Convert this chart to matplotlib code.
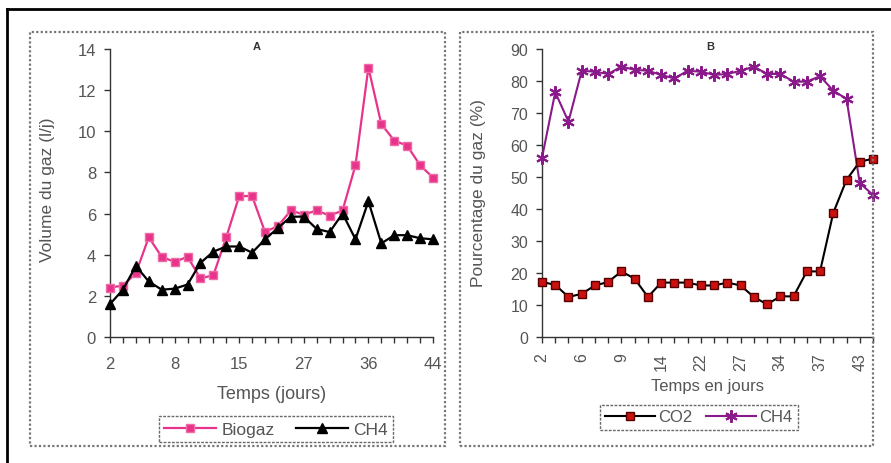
import matplotlib
matplotlib.use("Agg")
import matplotlib.pyplot as plt
from matplotlib.patches import Rectangle
from matplotlib.lines import Line2D
import numpy as np

plt.rcParams['font.family'] = ['Liberation Sans', 'DejaVu Sans']

# ---------------- data ----------------
days = [2, 3, 4, 6, 7, 8, 9, 10, 13, 14, 15, 20, 22, 23, 24, 27,
        29, 31, 34, 35, 36, 37, 39, 41, 43, 44]
biogaz = [2.4, 2.5, 3.1, 4.85, 3.9, 3.65, 3.9, 2.85, 3.0, 4.85, 6.85, 6.85, 5.1,
          5.4, 6.15, 5.95, 6.15, 5.9, 6.15, 8.35, 13.1, 10.35, 9.55, 9.3, 8.35, 7.75]
ch4_vol = [1.6, 2.3, 3.45, 2.7, 2.3, 2.35, 2.55, 3.6, 4.15, 4.4, 4.4, 4.1, 4.75,
           5.3, 5.85, 5.85, 5.25, 5.1, 6.0, 4.75, 6.6, 4.55, 4.95, 4.95, 4.8, 4.75]
co2_pct = [17.2, 16.3, 12.5, 13.5, 16.1, 17.2, 20.5, 18.2, 12.5, 17.0, 17.0, 17.0, 16.1,
           16.1, 17.0, 16.1, 12.5, 10.2, 12.7, 12.7, 20.5, 20.5, 38.8, 49.1, 54.8, 55.7]
ch4_pct = [56, 76.5, 67.3, 83.2, 82.9, 82.2, 84.5, 83.5, 83.2, 81.9, 80.8, 83.2, 82.9,
           81.9, 82.2, 83.2, 84.5, 82.2, 82.2, 79.8, 79.8, 81.5, 77, 74.4, 48.1, 44.4]
a_label_every = 5
b_label_every = 3

W, H = 891, 464
fig = plt.figure(figsize=(W / 100, H / 100), dpi=100)


def fx(x):
    return x / W


def fy(y):
    return 1 - y / H


def box(x0, y0, x1, y1):
    return [fx(x0), fy(y1), fx(x1) - fx(x0), fy(y0) - fy(y1)]


# outer black frame (left + top)
fig.add_artist(Line2D([fx(7), fx(7)], [fy(10), 0], color='black', lw=2.0))
fig.add_artist(Line2D([fx(7), 1], [fy(10), fy(10)], color='black', lw=2.0))

# panel dotted borders
for (x0, y0, x1, y1) in [(30, 33, 445, 447), (460, 33, 873, 447)]:
    fig.add_artist(Rectangle((fx(x0), fy(y1)), fx(x1) - fx(x0), fy(y0) - fy(y1),
                             transform=fig.transFigure, fill=False,
                             edgecolor='#777777', lw=1.6, ls=(0, (1, 1))))

txt = '#555555'
x = np.arange(len(days))


def style(ax, every, rot, fs, xpad):
    for s in ['top', 'right']:
        ax.spines[s].set_visible(False)
    for s in ['left', 'bottom']:
        ax.spines[s].set_color('#333333')
        ax.spines[s].set_linewidth(1.0)
    ax.set_xlim(0, len(days) - 1)
    ax.set_xticks(x)
    ax.set_xticklabels([str(d) if i % every == 0 else '' for i, d in enumerate(days)],
                       rotation=rot)
    ax.tick_params(axis='x', direction='out', length=4, width=1, colors='#333333',
                   labelcolor=txt, labelsize=fs, pad=xpad)
    ax.tick_params(axis='y', direction='out', length=4, width=1, colors='#333333',
                   labelcolor=txt, labelsize=fs, pad=6)
    ax.patch.set_alpha(0)


# ---------------- panel A ----------------
axA = fig.add_axes(box(110, 50, 433, 338))
axA.plot(x, biogaz, color='#e8338a', lw=1.6, marker='s', ms=6,
         mfc='#e8338a', mec='#f06aa8', mew=1.0, label='Biogaz', clip_on=False, zorder=3)
axA.plot(x, ch4_vol, color='black', lw=1.6, marker='^', ms=7,
         mfc='black', mec='black', label='CH4', clip_on=False, zorder=4)
axA.set_ylim(0, 14)
axA.set_yticks(range(0, 15, 2))
style(axA, a_label_every, 0, 12, 10)
axA.set_xlabel('Temps (jours)', fontsize=13, color=txt, labelpad=10)
fig.text(fx(48), fy(190), 'Volume du gaz (l/j)', rotation=90, ha='center', va='center',
         fontsize=12.5, color=txt)
fig.text(fx(257), fy(47), 'A', ha='center', va='center', fontsize=8,
         fontweight='bold', color='#333333')
legA = fig.legend(handles=axA.get_lines(), loc='center', ncol=2,
                  bbox_to_anchor=(fx(276), fy(430)), fontsize=12.5, frameon=True,
                  fancybox=False, edgecolor='#444444', handlelength=3.0,
                  columnspacing=1.2, handletextpad=0.3, borderpad=0.3,
                  labelcolor=txt)
legA.get_frame().set_linestyle((0, (2, 1)))
legA.get_frame().set_linewidth(1.0)

# ---------------- panel B ----------------
axB = fig.add_axes(box(542, 50, 873, 338))
axB.plot(x, co2_pct, color='black', lw=1.5, marker='s', ms=6,
         mfc='#cc1111', mec='#550000', mew=1.0, label='CO2', clip_on=False, zorder=4)
axB.plot(x, ch4_pct, color='#8a1a8a', lw=1.5, marker=(6, 2, 0), ms=9,
         mec='#8a1a8a', mew=1.5, label='CH4', clip_on=False, zorder=3)
axB.set_ylim(0, 90)
axB.set_yticks(range(0, 91, 10))
style(axB, b_label_every, 90, 11.5, 7)
axB.set_xlabel('Temps en jours', fontsize=12, color=txt, labelpad=6)
fig.text(fx(478), fy(193), 'Pourcentage du gaz (%)', rotation=90, ha='center',
         va='center', fontsize=12.5, color=txt)
fig.text(fx(710), fy(47), 'B', ha='center', va='center', fontsize=8,
         fontweight='bold', color='#333333')
legB = fig.legend(handles=axB.get_lines(), loc='center', ncol=2,
                  bbox_to_anchor=(fx(699), fy(418)), fontsize=12, frameon=True,
                  fancybox=False, edgecolor='#444444', handlelength=3.0,
                  columnspacing=0.8, handletextpad=0.2, borderpad=0.3,
                  labelcolor=txt)
legB.get_frame().set_linestyle((0, (2, 1)))
legB.get_frame().set_linewidth(1.0)

fig.savefig('out.png', dpi=100)
